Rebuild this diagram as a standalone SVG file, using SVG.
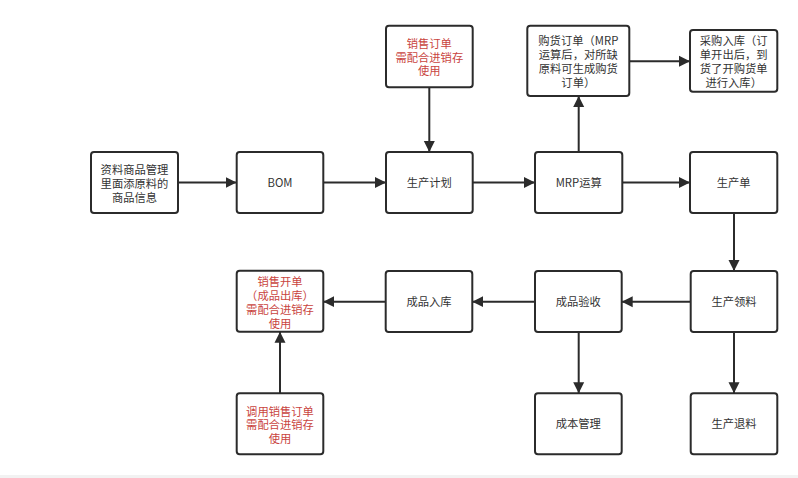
<svg xmlns="http://www.w3.org/2000/svg" width="798" height="478" viewBox="0 0 798 478">
<style>
.box{fill:#fff;stroke:#2b2b2b;stroke-width:2}
.t{font-family:"Noto Sans CJK SC","Noto Sans",sans-serif;font-size:11.3px;fill:#333;text-anchor:middle}
.r{fill:#c9443e}
.c{fill:none;stroke:#2b2b2b;stroke-width:2;marker-end:url(#ah)}
</style>
<defs>
<marker id="ah" markerUnits="userSpaceOnUse" markerWidth="12" markerHeight="12" viewBox="0 0 12 12" refX="11" refY="6" orient="auto">
<path d="M0,0.5 L11,6 L0,11.5 Z" fill="#2b2b2b"/>
</marker>
</defs>
<rect x="0" y="0" width="798" height="478" fill="#fff"/>
<rect x="0" y="475" width="798" height="3" fill="#f2f2f2"/>
<g id="connectors">
<line class="c" x1="178" y1="182.5" x2="236.5" y2="182.5"/>
<line class="c" x1="323.5" y1="182.5" x2="386" y2="182.5"/>
<line class="c" x1="472.5" y1="182.5" x2="535" y2="182.5"/>
<line class="c" x1="622" y1="182.5" x2="690" y2="182.5"/>
<line class="c" x1="429.3" y1="87" x2="429.3" y2="152"/>
<line class="c" x1="578.7" y1="152" x2="578.7" y2="96"/>
<line class="c" x1="629" y1="61.3" x2="690" y2="61.3"/>
<line class="c" x1="734" y1="213" x2="734" y2="271"/>
<line class="c" x1="690.5" y1="301.7" x2="621.7" y2="301.7"/>
<line class="c" x1="535" y1="301.7" x2="472.3" y2="301.7"/>
<line class="c" x1="385.7" y1="301.7" x2="323.3" y2="301.7"/>
<line class="c" x1="280" y1="393.3" x2="280" y2="331.7"/>
<line class="c" x1="578.7" y1="332" x2="578.7" y2="393.3"/>
<line class="c" x1="734" y1="332" x2="734" y2="393.3"/>
</g>
<g id="n-ziliao"><rect class="box" x="91" y="152" width="87" height="61" rx="3"/>
<text class="t" x="134.5" y="174">资料商品管理</text><text class="t" x="134.5" y="187.5">里面添原料的</text><text class="t" x="134.5" y="201.5">商品信息</text></g>
<g id="n-bom"><rect class="box" x="236.7" y="152" width="86.6" height="61" rx="3"/>
<text class="t" x="280" y="186.5">BOM</text></g>
<g id="n-jihua"><rect class="box" x="386" y="152" width="86.7" height="61" rx="3"/>
<text class="t" x="429.3" y="186.5">生产计划</text></g>
<g id="n-xiaoshou"><rect class="box" x="386" y="25.7" width="86.7" height="61.6" rx="3"/>
<text class="t r" x="429.3" y="48">销售订单</text><text class="t r" x="429.3" y="61.5">需配合进销存</text><text class="t r" x="429.3" y="75">使用</text></g>
<g id="n-mrp"><rect class="box" x="535" y="152" width="87.3" height="61" rx="3"/>
<text class="t" x="578.7" y="186.5">MRP运算</text></g>
<g id="n-gouhuo"><rect class="box" x="527.3" y="25.7" width="102" height="70.3" rx="3"/>
<text class="t" x="578.3" y="45">购货订单（MRP</text><text class="t" x="578.3" y="59">运算后，对所缺</text><text class="t" x="578.3" y="73">原料可生成购货</text><text class="t" x="578.3" y="87">订单）</text></g>
<g id="n-caigou"><rect class="box" x="690" y="30" width="87.3" height="61.7" rx="3"/>
<text class="t" x="733.7" y="45">采购入库（订</text><text class="t" x="733.7" y="59">单开出后，到</text><text class="t" x="733.7" y="73">货了开购货单</text><text class="t" x="733.7" y="87">进行入库）</text></g>
<g id="n-shengchandan"><rect class="box" x="690" y="152" width="87.3" height="61" rx="3"/>
<text class="t" x="733.7" y="186.5">生产单</text></g>
<g id="n-lingliao"><rect class="box" x="690.7" y="271" width="86.6" height="61" rx="3"/>
<text class="t" x="734" y="305.5">生产领料</text></g>
<g id="n-yanshou"><rect class="box" x="535" y="271" width="86.7" height="61" rx="3"/>
<text class="t" x="578.3" y="305.5">成品验收</text></g>
<g id="n-ruku"><rect class="box" x="385.7" y="271" width="86.6" height="61" rx="3"/>
<text class="t" x="429" y="305.5">成品入库</text></g>
<g id="n-kaidan"><rect class="box" x="236.7" y="270.7" width="86.6" height="61" rx="3"/>
<text class="t r" x="280" y="286">销售开单</text><text class="t r" x="280" y="300">（成品出库）</text><text class="t r" x="280" y="314">需配合进销存</text><text class="t r" x="280" y="328">使用</text></g>
<g id="n-diaoyong"><rect class="box" x="236.7" y="393.3" width="86.6" height="61" rx="3"/>
<text class="t r" x="280" y="415.5">调用销售订单</text><text class="t r" x="280" y="429">需配合进销存</text><text class="t r" x="280" y="443">使用</text></g>
<g id="n-chengben"><rect class="box" x="535" y="393.3" width="86.7" height="61" rx="3"/>
<text class="t" x="578.3" y="428">成本管理</text></g>
<g id="n-tuiliao"><rect class="box" x="690.7" y="393.3" width="86.6" height="61" rx="3"/>
<text class="t" x="734" y="428">生产退料</text></g>
</svg>
